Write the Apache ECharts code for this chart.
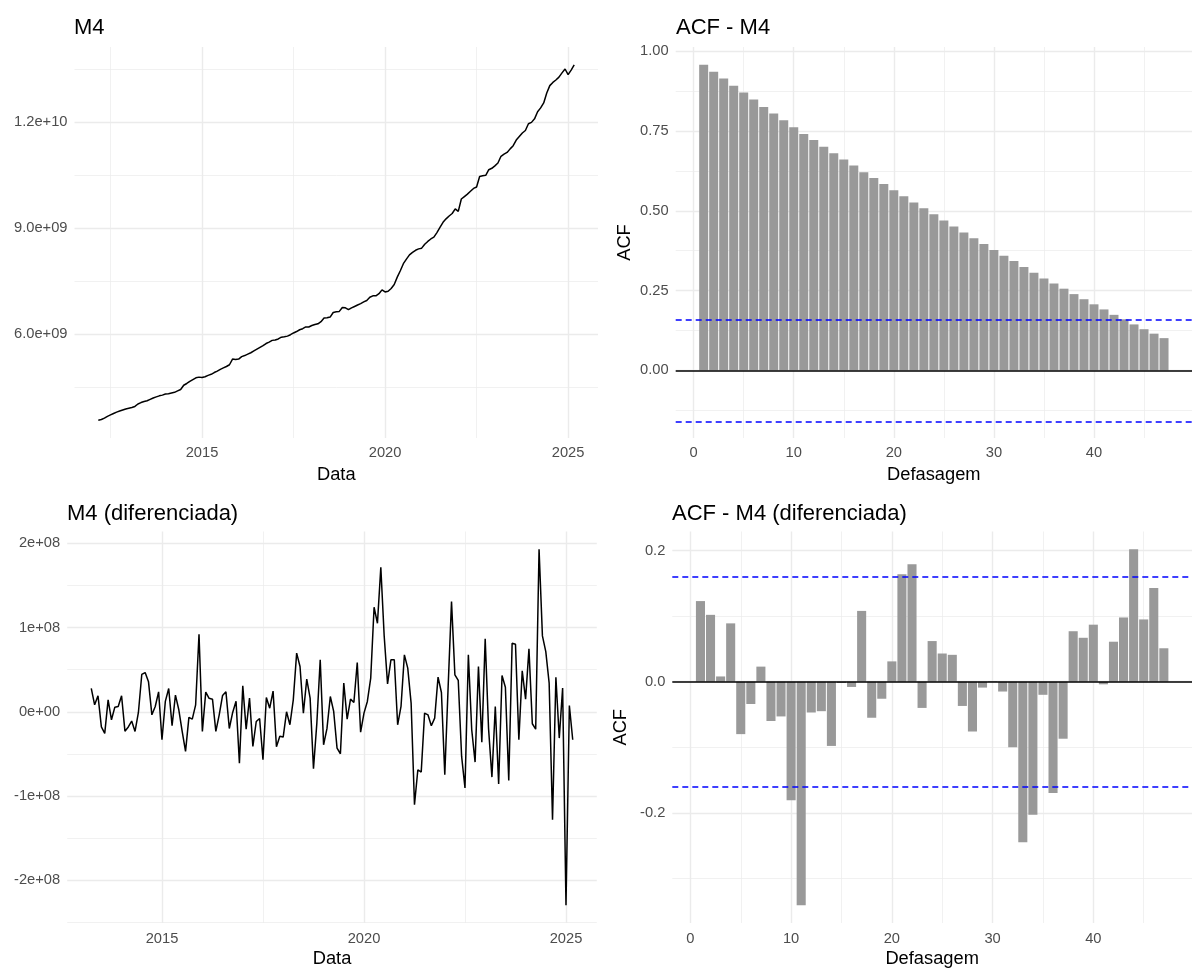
<!DOCTYPE html>
<html>
<head>
<meta charset="utf-8">
<script src="https://cdn.jsdelivr.net/npm/echarts@6/dist/echarts.min.js"></script>
<style>html,body{margin:0;padding:0;background:#ffffff;}#chart{width:1195px;height:969px;}</style>
</head>
<body>
<div id="chart"></div>
<script>
// ---------------- DATA ----------------
// M4 monthly series, starting March 2012
const m4Start = [2012, 3];
const m4Values = [
  3.57e9, 3.59e9, 3.63e9, 3.68e9, 3.72e9, 3.76e9, 3.80e9, 3.83e9, 3.86e9, 3.89e9,
  3.91e9, 3.93e9, 3.96e9, 4.03e9, 4.07e9, 4.10e9, 4.12e9, 4.16e9, 4.20e9, 4.23e9, 4.26e9, 4.28e9,
  4.31e9, 4.32e9, 4.34e9, 4.36e9, 4.40e9, 4.44e9, 4.56e9, 4.61e9, 4.67e9, 4.72e9, 4.77e9, 4.79e9,
  4.78e9, 4.80e9, 4.84e9, 4.87e9, 4.92e9, 4.96e9, 5.01e9, 5.05e9, 5.09e9, 5.14e9, 5.30e9, 5.29e9,
  5.30e9, 5.37e9, 5.40e9, 5.44e9, 5.48e9, 5.53e9, 5.58e9, 5.63e9, 5.68e9, 5.74e9, 5.78e9, 5.83e9,
  5.84e9, 5.87e9, 5.92e9, 5.93e9, 5.95e9, 5.99e9, 6.04e9, 6.08e9, 6.13e9, 6.16e9, 6.21e9, 6.21e9,
  6.25e9, 6.28e9, 6.30e9, 6.36e9, 6.46e9, 6.47e9, 6.49e9, 6.62e9, 6.64e9, 6.65e9, 6.76e9, 6.75e9,
  6.70e9, 6.75e9, 6.79e9, 6.83e9, 6.87e9, 6.92e9, 6.96e9, 7.05e9, 7.09e9, 7.09e9, 7.15e9, 7.26e9,
  7.20e9, 7.22e9, 7.30e9, 7.41e9, 7.62e9, 7.80e9, 8.00e9, 8.13e9, 8.25e9, 8.32e9, 8.38e9, 8.42e9,
  8.44e9, 8.55e9, 8.63e9, 8.70e9, 8.75e9, 8.88e9, 9.03e9, 9.17e9, 9.27e9, 9.35e9, 9.42e9, 9.55e9,
  9.48e9, 9.83e9, 9.90e9, 9.97e9, 10.05e9, 10.13e9, 10.17e9, 10.47e9, 10.49e9, 10.50e9, 10.66e9, 10.70e9,
  10.77e9, 10.85e9, 11.04e9, 11.10e9, 11.15e9, 11.25e9, 11.34e9, 11.50e9, 11.60e9, 11.70e9, 11.77e9, 11.96e9,
  12.00e9, 12.10e9, 12.30e9, 12.41e9, 12.55e9, 12.83e9, 13.04e9, 13.13e9, 13.20e9, 13.28e9, 13.40e9, 13.51e9,
  13.35e9, 13.48e9, 13.63e9
];

// Differenced M4, starting April 2013
const diffStart = [2013, 4];
const diffValues = [
  27.7e6, 8.3e6, 19.0e6, -18.0e6, -25.7e6, 14.2e6, -9.5e6, 5.5e6, 6.3e6, 19.0e6,
  -23.0e6, -18.0e6, -11.0e6, -23.3e6, -0.8e6, 44.3e6, 46.6e6, 35.6e6, -3.6e6, 6.3e6,
  23.7e6, -33.2e6, 12.3e6, 27.7e6, -16.6e6, 19.8e6, 2.4e6, -23.3e6, -47.0e6, -6.7e6,
  -8.7e6, 8.3e6, 92.0e6, -23.3e6, 23.3e6, 16.0e6, 15.0e6, -23.3e6, -3.6e6, 19.4e6,
  23.7e6, -19.8e6, -0.8e6, 12.6e6, -61.0e6, 30.8e6, -20.6e6, 16.2e6, -41.0e6, -11.5e6,
  -7.9e6, -57.0e6, 17.0e6, 4.3e6, 24.5e6, -41.5e6, -29.0e6, -30.0e6, 0.0, -15.4e6,
  14.2e6, 69.6e6, 53.8e6, -1.6e6, 38.7e6, 16.2e6, -67.6e6, -13.4e6, 61.7e6, -39.1e6,
  -20.0e6, 18.2e6, 0.4e6, -43.1e6, -49.8e6, 34.0e6, -8.7e6, 15.0e6, 11.1e6, 58.5e6,
  -24.1e6, -1.6e6, 12.3e6, 40.0e6, 124.1e6, 105.1e6, 171.5e6, 90.0e6, 33.2e6, 61.7e6,
  61.7e6, -15.4e6, 6.3e6, 67.6e6, 51.8e6, 10.3e6, -110.3e6, -68.8e6, -71.5e6, -1.6e6,
  -3.6e6, -16.6e6, -7.5e6, 41.1e6, 22.9e6, -74.7e6, 30.0e6, 130.8e6, 43.9e6, 37.2e6,
  -53.0e6, -90.5e6, 67.6e6, -21.3e6, -59.7e6, 53.8e6, -36.0e6, 86.6e6, -20.0e6, -77.5e6,
  6.3e6, -85.8e6, 43.1e6, 29.2e6, -81.4e6, 81.4e6, 80.2e6, -33.2e6, 48.6e6, 15.0e6,
  74.7e6, -14.2e6, -20.6e6, 192.9e6, 90.1e6, 71.5e6, 34.0e6, -128.1e6, 41.1e6, -31.2e6,
  28.1e6, -229.6e6, 7.5e6, -33.2e6
];

// ACF values, lags 1..47
const acfLags = [1,2,3,4,5,6,7,8,9,10,11,12,13,14,15,16,17,18,19,20,21,22,23,24,25,26,27,28,29,30,31,32,33,34,35,36,37,38,39,40,41,42,43,44,45,46,47];
const acfM4 = [0.958,0.936,0.915,0.892,0.871,0.849,0.826,0.805,0.784,0.762,
  0.741,0.722,0.701,0.681,0.661,0.642,0.621,0.603,0.584,0.565,
  0.546,0.526,0.508,0.489,0.470,0.451,0.432,0.414,0.396,0.377,
  0.359,0.343,0.324,0.306,0.288,0.272,0.256,0.239,0.223,0.207,
  0.191,0.174,0.160,0.144,0.129,0.115,0.101];
const acfDiff = [0.123,0.102,0.008,0.089,-0.080,-0.034,0.023,-0.060,-0.053,-0.181,
  -0.341,-0.047,-0.045,-0.098,-0.002,-0.008,0.108,-0.055,-0.026,0.031,
  0.164,0.179,-0.040,0.062,0.043,0.041,-0.037,-0.076,-0.009,0.001,
  -0.015,-0.100,-0.245,-0.203,-0.020,-0.170,-0.087,0.077,0.067,0.087,
  -0.004,0.061,0.098,0.202,0.095,0.143,0.051];
// confidence bounds (dashed blue)
const ciM4 = 0.1564;
const ciDiff = 0.1633;

// Tick labels
const yearTicks = [2015, 2020, 2025];
const yearLabels = ['2015', '2020', '2025'];
const m4YTicks = [6e9, 9e9, 1.2e10];
const m4YLabels = ['6.0e+09', '9.0e+09', '1.2e+10'];
const diffYTicks = [-2e8, -1e8, 0, 1e8, 2e8];
const diffYLabels = ['-2e+08', '-1e+08', '0e+00', '1e+08', '2e+08'];
const acfM4YTicks = [0, 0.25, 0.5, 0.75, 1.0];
const acfM4YLabels = ['0.00', '0.25', '0.50', '0.75', '1.00'];
const acfDiffYTicks = [-0.2, 0, 0.2];
const acfDiffYLabels = ['-0.2', '0.0', '0.2'];
const lagTicks = [0, 10, 20, 30, 40];
const lagLabels = ['0', '10', '20', '30', '40'];

// ---------------- HELPERS ----------------
const FONT = "'Liberation Sans', Arial, sans-serif";
const GRID_COL = '#EBEBEB';
function toPairsMonthly(start, vals) {
  return vals.map((v, i) => [start[0] + (start[1] - 1 + i) / 12, v]);
}
function expand(lo, hi) { const d = (hi - lo) * 0.05; return [lo - d, hi + d]; }
function fmt(ticks, labels) {
  return function (v) {
    for (let k = 0; k < ticks.length; k++) {
      if (Math.abs(ticks[k] - v) <= Math.abs(ticks[k]) * 1e-9 + 1e-12) return labels[k];
    }
    return '';
  };
}
function axis(opts) {
  const a = {
    type: 'value',
    gridIndex: opts.grid,
    min: opts.range[0], max: opts.range[1],
    minInterval: opts.step, maxInterval: opts.step, splitNumber: 4,
    axisLine: { show: false }, axisTick: { show: false },
    axisLabel: { formatter: fmt(opts.ticks, opts.labels), color: '#4D4D4D', fontSize: 14.7, fontFamily: FONT, margin: opts.labelMargin || 7, hideOverlap: false },
    splitLine: { show: true, showMinLine: false, showMaxLine: false, lineStyle: { color: GRID_COL, width: 1.4 } },
    minorTick: { show: false, splitNumber: 2 },
    minorSplitLine: { show: true, lineStyle: { color: GRID_COL, width: 0.7 } }
  };
  if (opts.name) {
    a.name = opts.name; a.nameLocation = 'middle'; a.nameGap = opts.nameGap;
    a.nameTextStyle = { color: '#000', fontSize: 18.3, fontFamily: FONT };
    if (opts.rotate) a.nameRotate = 90;
  }
  return a;
}

// ---------------- RANGES ----------------
const m4Pairs = toPairsMonthly(m4Start, m4Values);
const diffPairs = toPairsMonthly(diffStart, diffValues);
const xr1 = expand(m4Pairs[0][0], m4Pairs[m4Pairs.length - 1][0]);
const yr1 = expand(Math.min(...m4Values), Math.max(...m4Values));
const xr3 = expand(diffPairs[0][0], diffPairs[diffPairs.length - 1][0]);
const yr3 = expand(Math.min(...diffValues), Math.max(...diffValues));
const lagRange = expand(acfLags[0] - 0.45, acfLags[acfLags.length - 1] + 0.45);
const yr2 = expand(Math.min(0, -ciM4, ...acfM4), Math.max(ciM4, ...acfM4));
const yr4 = expand(Math.min(-ciDiff, ...acfDiff), Math.max(ciDiff, ...acfDiff));

function acfMarks(ci) {
  return {
    symbol: 'none', silent: true, animation: false, label: { show: false },
    data: [
      { yAxis: 0, lineStyle: { color: '#000000', width: 1.5, type: 'solid' } },
      { yAxis: ci, lineStyle: { color: '#0000FF', width: 1.6, type: [6, 4] } },
      { yAxis: -ci, lineStyle: { color: '#0000FF', width: 1.6, type: [6, 4] } }
    ]
  };
}

const titleStyle = { color: '#000', fontSize: 22, fontWeight: 'normal', fontFamily: FONT };

const option = {
  animation: false,
  backgroundColor: '#ffffff',
  title: [
    { text: 'M4', left: 74, top: 17, padding: 0, textStyle: titleStyle },
    { text: 'ACF - M4', left: 676, top: 17, padding: 0, textStyle: titleStyle },
    { text: 'M4 (diferenciada)', left: 67, top: 503, padding: 0, textStyle: titleStyle },
    { text: 'ACF - M4 (diferenciada)', left: 672, top: 503, padding: 0, textStyle: titleStyle }
  ],
  grid: [
    { left: 74.5, top: 47, width: 523.5, height: 391 },
    { left: 675.7, top: 47, width: 526.3, height: 391 },
    { left: 67.2, top: 531.5, width: 529.6, height: 391.5 },
    { left: 672.3, top: 531.5, width: 529.7, height: 391.5 }
  ],
  xAxis: [
    axis({ grid: 0, range: xr1, step: 5, ticks: yearTicks, labels: yearLabels, name: 'Data', nameGap: 28 }),
    axis({ grid: 1, range: lagRange, step: 10, ticks: lagTicks, labels: lagLabels, name: 'Defasagem', nameGap: 28 }),
    axis({ grid: 2, range: xr3, step: 5, ticks: yearTicks, labels: yearLabels, name: 'Data', nameGap: 27, labelMargin: 8 }),
    axis({ grid: 3, range: lagRange, step: 10, ticks: lagTicks, labels: lagLabels, name: 'Defasagem', nameGap: 27, labelMargin: 8 })
  ],
  yAxis: [
    axis({ grid: 0, range: yr1, step: 3e9, ticks: m4YTicks, labels: m4YLabels }),
    axis({ grid: 1, range: yr2, step: 0.25, ticks: acfM4YTicks, labels: acfM4YLabels, name: 'ACF', nameGap: 42, rotate: true }),
    axis({ grid: 2, range: yr3, step: 1e8, ticks: diffYTicks, labels: diffYLabels }),
    axis({ grid: 3, range: yr4, step: 0.2, ticks: acfDiffYTicks, labels: acfDiffYLabels, name: 'ACF', nameGap: 42, rotate: true })
  ],
  series: [
    { type: 'line', xAxisIndex: 0, yAxisIndex: 0, data: m4Pairs, showSymbol: false, symbol: 'none',
      lineStyle: { color: '#000000', width: 1.5 }, silent: true },
    { type: 'bar', xAxisIndex: 1, yAxisIndex: 1, data: acfLags.map((l, i) => [l, acfM4[i]]), barWidth: '90%',
      itemStyle: { color: '#999999' }, silent: true, markLine: acfMarks(ciM4) },
    { type: 'line', xAxisIndex: 2, yAxisIndex: 2, data: diffPairs, showSymbol: false, symbol: 'none',
      lineStyle: { color: '#000000', width: 1.5 }, silent: true },
    { type: 'bar', xAxisIndex: 3, yAxisIndex: 3, data: acfLags.map((l, i) => [l, acfDiff[i]]), barWidth: '90%',
      itemStyle: { color: '#999999' }, silent: true, markLine: acfMarks(ciDiff) }
  ]
};

const chart = echarts.init(document.getElementById('chart'), null, { renderer: 'canvas' });
chart.setOption(option);
</script>
</body>
</html>
